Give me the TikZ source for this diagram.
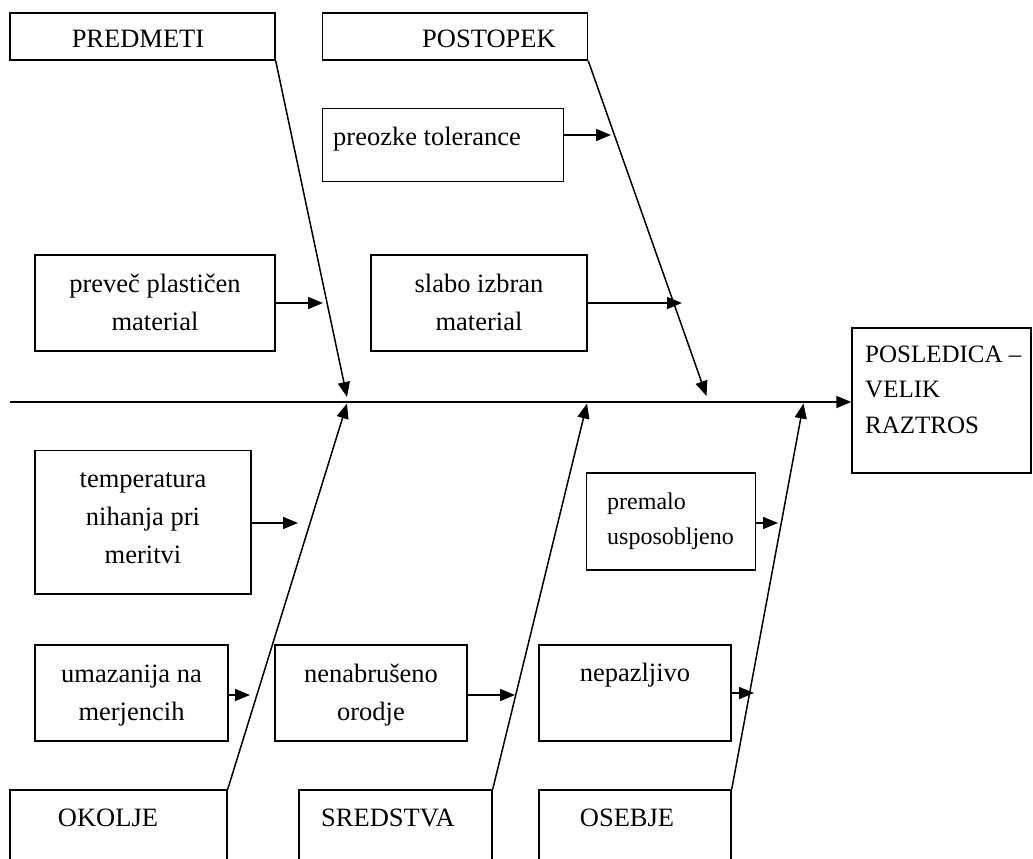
\documentclass[tikz,border=0pt]{standalone}
\usepackage{fontspec}
\setmainfont{Liberation Serif}
\usetikzlibrary{arrows.meta}
\begin{document}
\begin{tikzpicture}[x=1pt,y=-1pt,
  box/.style={draw, line width=1.4pt, inner sep=0pt},
  lbl/.style={inner sep=0pt, font=\fontsize{26.5}{38}\selectfont, anchor=base},
  lbll/.style={lbl, anchor=base west},
  arr/.style={line width=1.5pt, -{Triangle[length=15pt,width=12pt]}}]
\useasboundingbox (0,0) rectangle (1033,859);
\clip (0,0) rectangle (1033,859);

% category boxes above the spine
\node[box, minimum width=265pt, minimum height=47pt] (predmeti) at (142.5,36.5) {};
\node[lbl] (tpredmeti) at (138,48) {PREDMETI};
\node[box, minimum width=265pt, minimum height=47pt] (postopek) at (455,36.5) {};
\node[lbl] (tpostopek) at (489,48) {POSTOPEK};

% cause boxes above the spine (multi-line labels are placed by their last baseline)
\node[box, minimum width=240.7pt, minimum height=73.4pt] (preozke) at (443,145) {};
\node[lbll] (tpreozke) at (333,145) {preozke tolerance};
\node[box, minimum width=240pt, minimum height=96pt] (prevec) at (155,303) {};
\node[lbl, align=center] (tprevec) at (155,330) {preveč plastičen\\material};
\node[box, minimum width=216pt, minimum height=96pt] (slabo) at (479,303) {};
\node[lbl, align=center] (tslabo) at (479,330) {slabo izbran\\material};

% effect box
\node[box, minimum width=179pt, minimum height=145pt] (posledica) at (941.5,400.5) {};
\node[lbll, font=\fontsize{25}{35.5}\selectfont, align=left] (tposledica) at (865,433) {POSLEDICA –\\VELIK\\RAZTROS};

% cause boxes below the spine
\node[box, minimum width=216pt, minimum height=143.3pt] (temperatura) at (143,522.4) {};
\node[lbl, align=center] (ttemperatura) at (143,563) {temperatura\\nihanja pri\\meritvi};
\node[box, minimum width=169pt, minimum height=97pt] (premalo) at (671,521.5) {};
\node[lbll, font=\fontsize{24}{35}\selectfont, align=left] (tpremalo) at (607,544) {premalo\\usposobljeno};
\node[box, minimum width=193pt, minimum height=96pt] (umazanija) at (131.5,693) {};
\node[lbl, align=center] (tumazanija) at (131.5,720) {umazanija na\\merjencih};
\node[box, minimum width=192pt, minimum height=96pt] (nenabruseno) at (371,693) {};
\node[lbl, align=center] (tnenabruseno) at (371,720) {nenabrušeno\\orodje};
\node[box, minimum width=192pt, minimum height=96pt] (nepazljivo) at (635,693) {};
\node[lbl] (tnepazljivo) at (635,681) {nepazljivo};

% category boxes below the spine (running off the lower edge)
\node[box, minimum width=217pt, minimum height=110pt] (okolje) at (118.5,845) {};
\node[lbl] (tokolje) at (108,826) {OKOLJE};
\node[box, minimum width=193pt, minimum height=110pt] (sredstva) at (395.5,845) {};
\node[lbl] (tsredstva) at (388,826) {SREDSTVA};
\node[box, minimum width=192pt, minimum height=110pt] (osebje) at (635,845) {};
\node[lbl] (tosebje) at (627,826) {OSEBJE};

% spine
\coordinate (spine) at (10,402);
\draw[arr] (spine) -- (posledica.west |- spine);

% ends of the bones on the spine
\coordinate (endP) at (347,397);
\coordinate (endT) at (706.5,396);
\coordinate (endO) at (347,403.5);
\coordinate (endS) at (587,403.5);
\coordinate (endE) at (803.5,403.5);
\draw[arr] (predmeti.south east) -- (endP);
\draw[arr] (postopek.south east) -- (endT);
\draw[arr] (okolje.north east) -- (endO);
\draw[arr] (sredstva.north east) -- (endS);
\draw[arr] (osebje.north east) -- (endE);

% cause arrows onto the bones
\coordinate (hPreozke) at (611,135);
\coordinate (hPrevec) at (323,303);
\coordinate (hSlabo) at (682,303);
\coordinate (hTemp) at (298,523);
\coordinate (hPremalo) at (778,523);
\coordinate (hUmaz) at (250,695);
\coordinate (hNenab) at (515,695);
\coordinate (hNepaz) at (754,693);
\draw[arr] (preozke.east |- hPreozke) -- (hPreozke);
\draw[arr] (prevec.east |- hPrevec) -- (hPrevec);
\draw[arr] (slabo.east |- hSlabo) -- (hSlabo);
\draw[arr] (temperatura.east |- hTemp) -- (hTemp);
\draw[arr] (premalo.east |- hPremalo) -- (hPremalo);
\draw[arr] (umazanija.east |- hUmaz) -- (hUmaz);
\draw[arr] (nenabruseno.east |- hNenab) -- (hNenab);
\draw[arr] (nepazljivo.east |- hNepaz) -- (hNepaz);
\end{tikzpicture}
\end{document}
